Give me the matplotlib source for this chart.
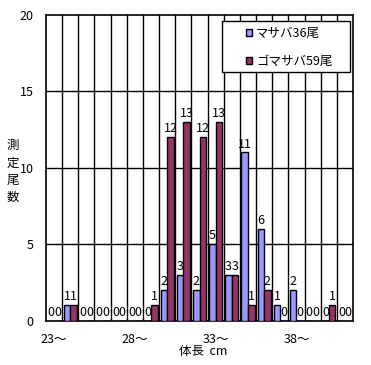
import matplotlib
matplotlib.use("Agg")
import matplotlib.pyplot as plt
from matplotlib.patches import Rectangle
import numpy as np

plt.rcParams['font.family'] = ['Noto Sans CJK JP', 'DejaVu Sans']

sizes = list(range(23, 42))
masaba = [0, 1, 0, 0, 0, 0, 0, 2, 3, 2, 5, 3, 11, 6, 1, 2, 0, 0, 0]
gomasaba = [0, 1, 0, 0, 0, 0, 1, 12, 13, 12, 13, 3, 1, 2, 0, 0, 0, 1, 0]
tick_labels = {23: "23～", 28: "28～", 33: "33～", 38: "38～"}
series_names = ["マサバ36尾", "ゴマサバ59尾"]
colors = ["#9999FF", "#993366"]

W, H = 371, 365
fig = plt.figure(figsize=(W/100, H/100), dpi=100)
ax = fig.add_axes([46/W, 1-320.5/H, 307/W, 305.5/H])

x = np.arange(len(sizes))
w = 0.41
xb = x - w/2
xr = x + w/2
ax.bar(xb, masaba, w, color=colors[0], edgecolor="black", linewidth=1, label=series_names[0], zorder=3)
ax.bar(xr, gomasaba, w, color=colors[1], edgecolor="black", linewidth=1, label=series_names[1], zorder=3)

for xs, vals in ((xb, masaba), (xr, gomasaba)):
    for xi, v in zip(xs, vals):
        ax.text(xi, v + 0.12, str(v), ha="center", va="bottom", fontsize=9, zorder=4)

ax.set_xlim(-0.5, len(sizes) - 0.5)
ax.set_ylim(0, 20)
ax.set_yticks([0, 5, 10, 15, 20])
ax.set_xticks([i for i, s in enumerate(sizes) if s in tick_labels])
ax.set_xticklabels([tick_labels[s] for s in sizes if s in tick_labels])
ax.tick_params(axis="both", length=0, labelsize=9)
ax.tick_params(axis="y", pad=9)
ax.tick_params(axis="x", pad=9)

for yv in [5, 10, 15]:
    ax.axhline(yv, color="black", linewidth=1, zorder=1)
for xv in np.arange(0.5, len(sizes) - 0.5, 1):
    ax.axvline(xv, color="black", linewidth=1, zorder=1)
for sp in ax.spines.values():
    sp.set_linewidth(1.2)
    sp.set_color("black")

for ch, yy in zip("測定尾数", [145, 163, 180, 197]):
    fig.text(13/W, 1-yy/H, ch, ha="center", va="center", fontsize=9)
fig.text(203/W, 1-352/H, "体長  cm", ha="center", va="center", fontsize=9)

frame = Rectangle((222/W, 1-72/H), 128/W, 51/H, transform=fig.transFigure,
                  facecolor="white", edgecolor="black", linewidth=1, zorder=2)
fig.add_artist(frame)
handles, labels = ax.get_legend_handles_labels()
leg = fig.legend(handles, labels, loc="center left", bbox_to_anchor=(246/W, 1-47.5/H),
                 bbox_transform=fig.transFigure, frameon=False, fontsize=9,
                 handlelength=0.5, handleheight=0.5, labelspacing=1.15, handletextpad=0.3,
                 borderpad=0, borderaxespad=0)
leg.set_zorder(3)

fig.savefig("out.png", dpi=100)
